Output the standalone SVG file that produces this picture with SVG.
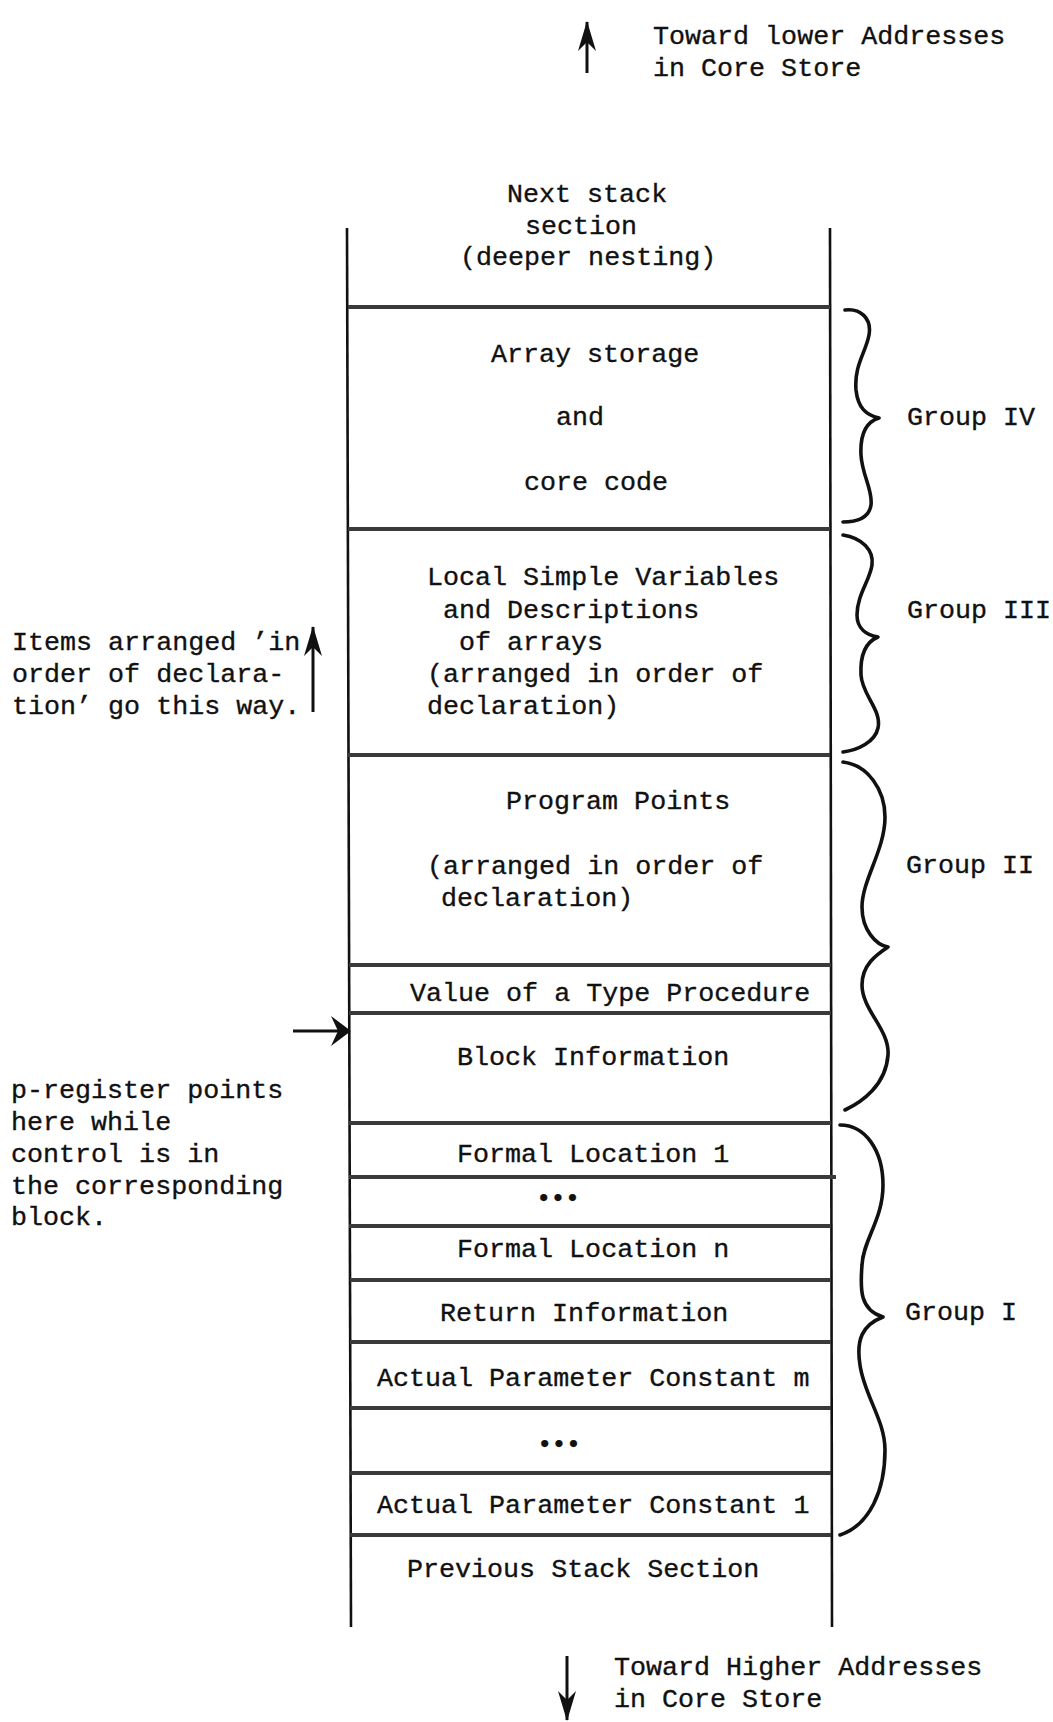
<svg xmlns="http://www.w3.org/2000/svg" width="1053" height="1722" viewBox="0 0 1053 1722">
<style>
  text { font-family: "Liberation Mono", "DejaVu Sans Mono", monospace; font-size: 26.7px; fill: #111; stroke: #111; stroke-width: 0.35; }
  .frame { stroke: #111; stroke-width: 2.6; fill: none; }
  .div { stroke: #3a3a3a; stroke-width: 4; fill: none; }
  .brace { stroke: #111; stroke-width: 3.6; fill: none; stroke-linecap: round; stroke-linejoin: round; }
  .arrow { stroke: #111; stroke-width: 3; fill: none; }
  .dots { font-weight: bold; font-size: 24px; }
</style>
<defs>
  <marker id="head" markerUnits="userSpaceOnUse" viewBox="0 0 30 20" refX="29" refY="10" markerWidth="30" markerHeight="20" orient="auto">
    <path d="M0,1 L30,10 L0,19 L9,10 z" fill="#111"/>
  </marker>
  <marker id="head2" markerUnits="userSpaceOnUse" viewBox="0 0 20 30" refX="19" refY="15" markerWidth="20" markerHeight="30" orient="auto">
    <path d="M0,0 L20,15 L0,30 L7,15 z" fill="#111"/>
  </marker>
</defs>

<g id="stack-frame">
  <line class="frame" x1="347" y1="228" x2="351" y2="1627"/>
  <line class="frame" x1="830" y1="228" x2="832" y2="1627"/>
  <line class="div" x1="348" y1="307" x2="830" y2="307"/>
  <line class="div" x1="348" y1="529" x2="830" y2="529"/>
  <line class="div" x1="348" y1="755" x2="830" y2="755"/>
  <line class="div" x1="349" y1="965" x2="831" y2="965"/>
  <line class="div" x1="349" y1="1013" x2="831" y2="1013"/>
  <line class="div" x1="349" y1="1123" x2="831" y2="1123"/>
  <line class="div" x1="349" y1="1177" x2="836" y2="1177"/>
  <line class="div" x1="349" y1="1226" x2="831" y2="1226"/>
  <line class="div" x1="350" y1="1280" x2="831" y2="1280"/>
  <line class="div" x1="350" y1="1342" x2="831" y2="1342"/>
  <line class="div" x1="350" y1="1408" x2="831" y2="1408"/>
  <line class="div" x1="350" y1="1473" x2="831" y2="1473"/>
  <line class="div" x1="350" y1="1535" x2="831" y2="1535"/>
</g>

<g id="note-top">
  <text x="653" y="44">Toward lower Addresses</text>
  <text x="653" y="76">in Core Store</text>
</g>
<g id="note-bottom">
  <text x="614" y="1675">Toward Higher Addresses</text>
  <text x="614" y="1707">in Core Store</text>
</g>

<g id="cell-next">
  <text x="507" y="202">Next stack</text>
  <text x="525" y="234">section</text>
  <text x="460" y="265">(deeper nesting)</text>
</g>
<g id="cell-array">
  <text x="491" y="362">Array storage</text>
  <text x="556" y="425">and</text>
  <text x="524" y="490">core code</text>
</g>
<g id="cell-local">
  <text x="427" y="585">Local Simple Variables</text>
  <text x="443" y="618">and Descriptions</text>
  <text x="459" y="650">of arrays</text>
  <text x="427" y="682">(arranged in order of</text>
  <text x="427" y="714">declaration)</text>
</g>
<g id="cell-program">
  <text x="506" y="809">Program Points</text>
  <text x="427" y="874">(arranged in order of</text>
  <text x="441" y="906">declaration)</text>
</g>
<g id="cell-value">
  <text x="410" y="1001">Value of a Type Procedure</text>
</g>
<g id="cell-block">
  <text x="457" y="1065">Block Information</text>
</g>
<g id="cell-formal1">
  <text x="457" y="1162">Formal Location 1</text>
</g>
<g id="cell-fdots">
  <text class="dots" x="558" y="1206" text-anchor="middle">•••</text>
</g>
<g id="cell-formaln">
  <text x="457" y="1257">Formal Location n</text>
</g>
<g id="cell-return">
  <text x="440" y="1321">Return Information</text>
</g>
<g id="cell-apcm">
  <text x="377" y="1386">Actual Parameter Constant m</text>
</g>
<g id="cell-adots">
  <text class="dots" x="559" y="1452" text-anchor="middle">•••</text>
</g>
<g id="cell-apc1">
  <text x="377" y="1513">Actual Parameter Constant 1</text>
</g>
<g id="cell-previous">
  <text x="407" y="1577">Previous Stack Section</text>
</g>

<g id="note-order">
  <text x="12" y="650">Items arranged ’in</text>
  <text x="12" y="682">order of declara-</text>
  <text x="12" y="714">tion’ go this way.</text>
</g>
<g id="note-preg">
  <text x="11" y="1098">p-register points</text>
  <text x="11" y="1130">here while</text>
  <text x="11" y="1162">control is in</text>
  <text x="11" y="1194">the corresponding</text>
  <text x="11" y="1225">block.</text>
</g>

<g id="group-labels">
  <text x="907" y="425">Group IV</text>
  <text x="907" y="618">Group III</text>
  <text x="906" y="873">Group II</text>
  <text x="905" y="1320">Group I</text>
</g>

<g id="connectors">
  <path class="brace" d="M845,310 C860,308 872,318 869,335 C866,352 854,365 856,390 C858,408 866,415 879,418 C866,422 860,435 861,455 C862,475 873,490 871,505 C869,518 857,522 843,522"/>
  <path class="brace" d="M843,535 C862,538 874,550 872,565 C870,580 857,595 857,615 C857,628 866,635 878,637 C866,642 860,655 861,675 C862,695 882,710 878,728 C875,742 858,750 843,752"/>
  <path class="brace" d="M843,762 C868,765 885,790 885,817 C885,850 862,880 862,907 C862,930 876,945 888,947 C876,955 862,965 862,985 C862,1010 890,1030 888,1055 C886,1085 862,1102 845,1110"/>
  <path class="brace" d="M840,1125 C865,1125 883,1150 883,1185 C883,1220 863,1240 862,1265 C860,1290 860,1310 883,1317 C862,1325 856,1340 860,1365 C864,1395 885,1420 885,1450 C885,1490 870,1525 840,1535"/>
  <line class="arrow" x1="587" y1="73" x2="587" y2="22" marker-end="url(#head)"/>
  <line class="arrow" x1="567" y1="1656" x2="567" y2="1720" marker-end="url(#head)"/>
  <line class="arrow" x1="313" y1="712" x2="313" y2="627" marker-end="url(#head)"/>
  <line class="arrow" x1="293" y1="1031" x2="350" y2="1031" marker-end="url(#head2)"/>
</g>
</svg>
